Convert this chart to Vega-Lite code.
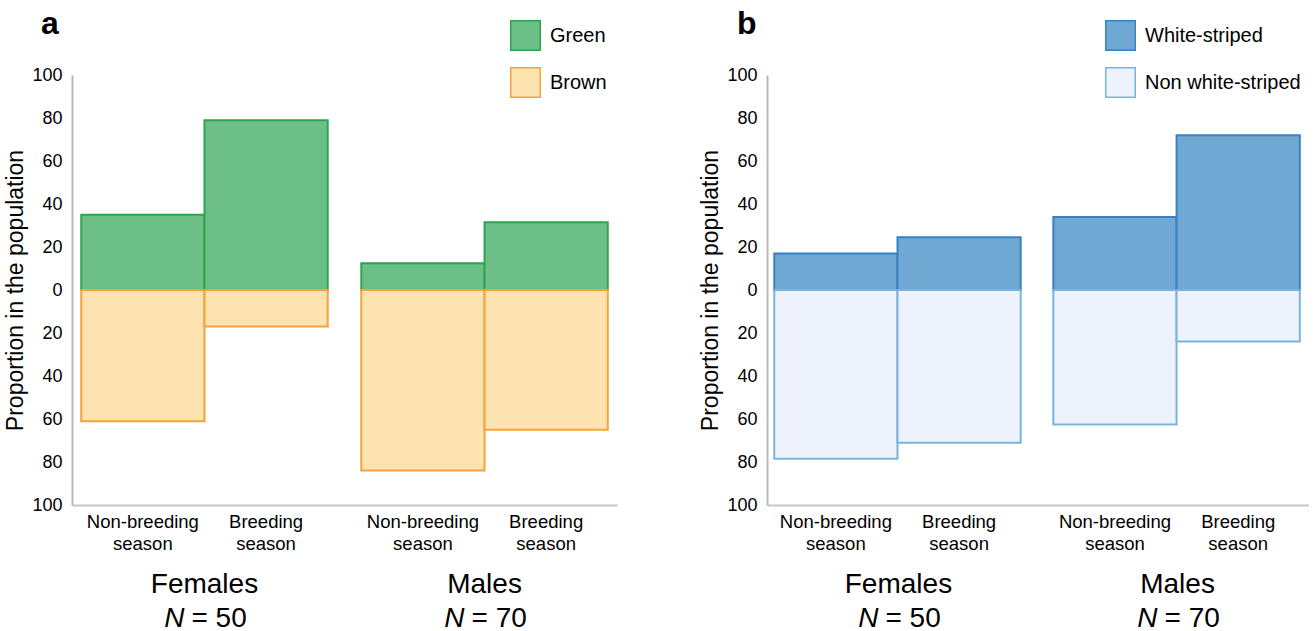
{
  "$schema": "https://vega.github.io/schema/vega-lite/v6.json",
  "padding": {"left": 4, "top": 8, "right": 0, "bottom": 0},
  "background": "white",
  "config": {
    "font": "Liberation Sans",
    "view": {"stroke": null},
    "axis": {"labelColor": "#000", "titleColor": "#000"},
    "legend": {"labelColor": "#000"}
  },
  "datasets": {
    "a": [
      {"sex": "Females", "season": "Non-breeding", "category": "Green", "value": 35},
      {"sex": "Females", "season": "Non-breeding", "category": "Brown", "value": -61},
      {"sex": "Females", "season": "Breeding", "category": "Green", "value": 79},
      {"sex": "Females", "season": "Breeding", "category": "Brown", "value": -17},
      {"sex": "Males", "season": "Non-breeding", "category": "Green", "value": 12.5},
      {"sex": "Males", "season": "Non-breeding", "category": "Brown", "value": -84},
      {"sex": "Males", "season": "Breeding", "category": "Green", "value": 31.5},
      {"sex": "Males", "season": "Breeding", "category": "Brown", "value": -65}
    ],
    "b": [
      {"sex": "Females", "season": "Non-breeding", "category": "White-striped", "value": 17},
      {"sex": "Females", "season": "Non-breeding", "category": "Non white-striped", "value": -78.5},
      {"sex": "Females", "season": "Breeding", "category": "White-striped", "value": 24.5},
      {"sex": "Females", "season": "Breeding", "category": "Non white-striped", "value": -71},
      {"sex": "Males", "season": "Non-breeding", "category": "White-striped", "value": 34},
      {"sex": "Males", "season": "Non-breeding", "category": "Non white-striped", "value": -62.5},
      {"sex": "Males", "season": "Breeding", "category": "White-striped", "value": 72},
      {"sex": "Males", "season": "Breeding", "category": "Non white-striped", "value": -24}
    ],
    "seasons": [
      {"sex": "Females", "season": "Non-breeding", "label": "Non-breeding\nseason"},
      {"sex": "Females", "season": "Breeding", "label": "Breeding\nseason"},
      {"sex": "Males", "season": "Non-breeding", "label": "Non-breeding\nseason"},
      {"sex": "Males", "season": "Breeding", "label": "Breeding\nseason"}
    ],
    "groups": [
      {"sex": "Females", "name": "Females", "n": "N", "rest": "= 50"},
      {"sex": "Males", "name": "Males", "n": "N", "rest": "= 70"}
    ]
  },
  "resolve": {"scale": {"fill": "independent", "stroke": "independent", "x": "independent", "y": "independent"}, "legend": {"fill": "independent", "stroke": "independent"}},
  "spacing": 82,
  "hconcat": [
    {
      "width": 545,
      "height": 430,
      "title": {"text": "a", "anchor": "start", "frame": "group", "dx": -31, "offset": -21, "fontSize": 32, "fontWeight": "bold", "color": "#000"},
      "layer": [
        {
          "data": {"name": "a"},
          "mark": {"type": "bar", "strokeWidth": 2},
          "encoding": {
            "x": {"field": "sex", "type": "nominal", "scale": {"domain": ["Females", "Males"], "paddingInner": 0.12, "paddingOuter": 0.033}, "axis": {"labels": false, "ticks": false, "title": null, "domainColor": "#c8c8c8", "domainWidth": 2}},
            "xOffset": {"field": "season", "type": "nominal", "scale": {"domain": ["Non-breeding", "Breeding"], "paddingInner": 0, "paddingOuter": 0}},
            "y": {"field": "value", "type": "quantitative", "stack": null, "scale": {"domain": [-100, 100], "nice": false},
                  "axis": {"values": [-100, -80, -60, -40, -20, 0, 20, 40, 60, 80, 100], "labelExpr": "abs(datum.value)", "ticks": false, "grid": false, "domainColor": "#b8b8b8", "domainWidth": 2, "labelFontSize": 18, "labelPadding": 10, "title": "Proportion in the population", "titleFontSize": 23, "titleFontWeight": "normal", "titlePadding": 4}},
            "fill": {"field": "category", "type": "nominal", "scale": {"domain": ["Green", "Brown"], "range": ["#6dbf88", "#fde3b0"]},
                     "legend": {"orient": "none", "legendX": 438, "legendY": -55, "title": null, "symbolType": "square", "symbolSize": 870, "symbolStrokeColor": "#aaaaaa", "symbolStrokeWidth": 1.5, "labelFontSize": 20, "labelOffset": 9, "rowPadding": 10}},
            "stroke": {"field": "category", "type": "nominal", "scale": {"domain": ["Green", "Brown"], "range": ["#2ea44f", "#f7a238"]}, "legend": null}
          }
        },
        {
          "mark": {"type": "rule", "color": "#c8c8c8", "strokeWidth": 2},
          "encoding": {"y": {"datum": 0}}
        },
        {
          "data": {"name": "seasons"},
          "mark": {"type": "text", "fontSize": 18.5, "lineBreak": "\n", "lineHeight": 22.3, "baseline": "alphabetic", "dy": 23, "color": "#000"},
          "encoding": {
            "x": {"field": "sex", "type": "nominal"},
            "xOffset": {"field": "season", "type": "nominal"},
            "y": {"datum": -100},
            "text": {"field": "label"}
          }
        },
        {
          "data": {"name": "groups"},
          "mark": {"type": "text", "fontSize": 28, "baseline": "alphabetic", "dy": 88, "color": "#000"},
          "encoding": {"x": {"field": "sex", "type": "nominal"}, "y": {"datum": -100}, "text": {"field": "name"}}
        },
        {
          "data": {"name": "groups"},
          "mark": {"type": "text", "fontSize": 28, "fontStyle": "italic", "align": "right", "baseline": "alphabetic", "dy": 122, "dx": -20, "color": "#000"},
          "encoding": {"x": {"field": "sex", "type": "nominal"}, "y": {"datum": -100}, "text": {"field": "n"}}
        },
        {
          "data": {"name": "groups"},
          "mark": {"type": "text", "fontSize": 28, "align": "left", "baseline": "alphabetic", "dy": 122, "dx": -13, "color": "#000"},
          "encoding": {"x": {"field": "sex", "type": "nominal"}, "y": {"datum": -100}, "text": {"field": "rest"}}
        }
      ]
    },
    {
      "width": 542,
      "height": 430,
      "title": {"text": "b", "anchor": "start", "frame": "group", "dx": -30, "offset": -21, "fontSize": 32, "fontWeight": "bold", "color": "#000"},
      "layer": [
        {
          "data": {"name": "b"},
          "mark": {"type": "bar", "strokeWidth": 2},
          "encoding": {
            "x": {"field": "sex", "type": "nominal", "scale": {"domain": ["Females", "Males"], "paddingInner": 0.11, "paddingOuter": 0.026}, "axis": {"labels": false, "ticks": false, "title": null, "domainColor": "#c8c8c8", "domainWidth": 2}},
            "xOffset": {"field": "season", "type": "nominal", "scale": {"domain": ["Non-breeding", "Breeding"], "paddingInner": 0, "paddingOuter": 0}},
            "y": {"field": "value", "type": "quantitative", "stack": null, "scale": {"domain": [-100, 100], "nice": false},
                  "axis": {"values": [-100, -80, -60, -40, -20, 0, 20, 40, 60, 80, 100], "labelExpr": "abs(datum.value)", "ticks": false, "grid": false, "domainColor": "#b8b8b8", "domainWidth": 2, "labelFontSize": 18, "labelPadding": 10, "title": "Proportion in the population", "titleFontSize": 23, "titleFontWeight": "normal", "titlePadding": 4}},
            "fill": {"field": "category", "type": "nominal", "scale": {"domain": ["White-striped", "Non white-striped"], "range": ["#6fa8d3", "#eef2fd"]},
                     "legend": {"orient": "none", "legendX": 338, "legendY": -55, "title": null, "symbolType": "square", "symbolSize": 870, "symbolStrokeColor": "#aaaaaa", "symbolStrokeWidth": 1.5, "labelFontSize": 20, "labelOffset": 9, "rowPadding": 10}},
            "stroke": {"field": "category", "type": "nominal", "scale": {"domain": ["White-striped", "Non white-striped"], "range": ["#3b80c0", "#78b4df"]}, "legend": null}
          }
        },
        {
          "mark": {"type": "rule", "color": "#c8c8c8", "strokeWidth": 2},
          "encoding": {"y": {"datum": 0}}
        },
        {
          "data": {"name": "seasons"},
          "mark": {"type": "text", "fontSize": 18.5, "lineBreak": "\n", "lineHeight": 22.3, "baseline": "alphabetic", "dy": 23, "color": "#000"},
          "encoding": {
            "x": {"field": "sex", "type": "nominal"},
            "xOffset": {"field": "season", "type": "nominal"},
            "y": {"datum": -100},
            "text": {"field": "label"}
          }
        },
        {
          "data": {"name": "groups"},
          "mark": {"type": "text", "fontSize": 28, "baseline": "alphabetic", "dy": 88, "color": "#000"},
          "encoding": {"x": {"field": "sex", "type": "nominal"}, "y": {"datum": -100}, "text": {"field": "name"}}
        },
        {
          "data": {"name": "groups"},
          "mark": {"type": "text", "fontSize": 28, "fontStyle": "italic", "align": "right", "baseline": "alphabetic", "dy": 122, "dx": -20, "color": "#000"},
          "encoding": {"x": {"field": "sex", "type": "nominal"}, "y": {"datum": -100}, "text": {"field": "n"}}
        },
        {
          "data": {"name": "groups"},
          "mark": {"type": "text", "fontSize": 28, "align": "left", "baseline": "alphabetic", "dy": 122, "dx": -13, "color": "#000"},
          "encoding": {"x": {"field": "sex", "type": "nominal"}, "y": {"datum": -100}, "text": {"field": "rest"}}
        }
      ]
    }
  ]
}
